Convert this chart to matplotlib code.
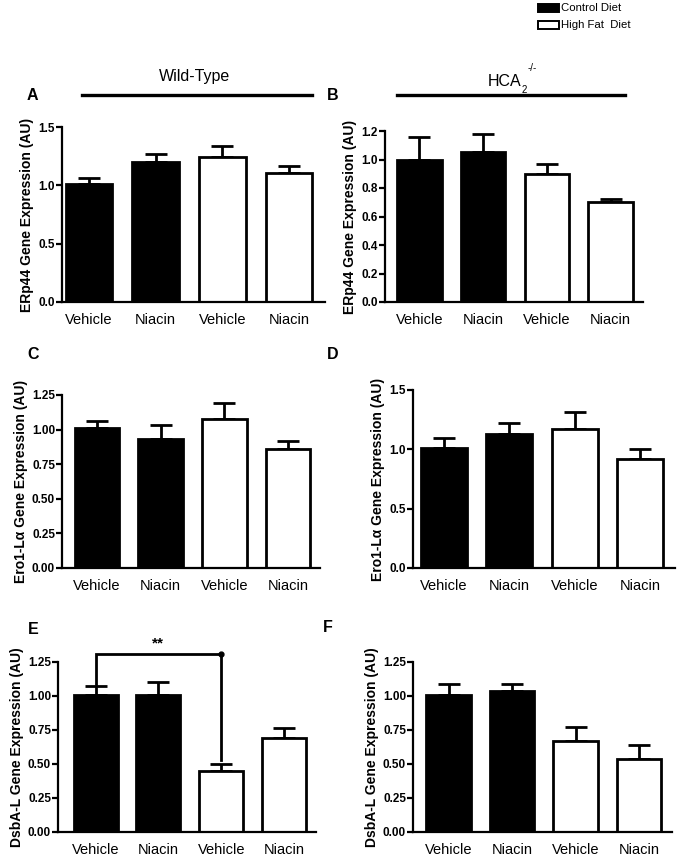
import matplotlib
matplotlib.use("Agg")
import matplotlib.pyplot as plt
from matplotlib.lines import Line2D
from matplotlib.patches import Rectangle

plt.rcParams['font.family'] = ['Liberation Sans', 'DejaVu Sans']

# ---------------- data ----------------
categories = ["Vehicle", "Niacin", "Vehicle", "Niacin"]
diet = ["Control Diet", "Control Diet", "High Fat Diet", "High Fat Diet"]

A_vals = [1.01, 1.20, 1.24, 1.11]
A_err = [0.05, 0.07, 0.10, 0.06]
B_vals = [1.00, 1.05, 0.90, 0.70]
B_err = [0.155, 0.13, 0.07, 0.02]
C_vals = [1.01, 0.93, 1.08, 0.86]
C_err = [0.05, 0.10, 0.115, 0.06]
D_vals = [1.01, 1.13, 1.17, 0.92]
D_err = [0.085, 0.09, 0.145, 0.085]
E_vals = [1.01, 1.005, 0.446, 0.69]
E_err = [0.06, 0.10, 0.052, 0.075]
F_vals = [1.01, 1.037, 0.67, 0.537]
F_err = [0.08, 0.054, 0.10, 0.10]

A_ticks = [0.0, 0.5, 1.0, 1.5]
B_ticks = [0.0, 0.2, 0.4, 0.6, 0.8, 1.0, 1.2]
C_ticks = [0.00, 0.25, 0.50, 0.75, 1.00, 1.25]
D_ticks = [0.0, 0.5, 1.0, 1.5]
E_ticks = [0.00, 0.25, 0.50, 0.75, 1.00, 1.25]
F_ticks = [0.00, 0.25, 0.50, 0.75, 1.00, 1.25]

ylab_erp = "ERp44 Gene Expression (AU)"
ylab_ero = "Ero1-Lα Gene Expression (AU)"
ylab_dsb = "DsbA-L Gene Expression (AU)"

# significance annotation in panel E
sig_left, sig_right = 0, 2
sig_y = 1.31
sig_left_bottom = 1.09
sig_right_bottom = 0.53
sig_text = "**"

# ---------------- layout ----------------
W, H = 680, 856
fig = plt.figure(figsize=(W / 100, H / 100), dpi=100)


def px_axes(left, top, right, bottom):
    return fig.add_axes([left / W, 1 - bottom / H, (right - left) / W, (bottom - top) / H])


def fx(x):
    return x / W


def fy(y):
    return 1 - y / H


bar_w = 0.70
fills = ["black" if d == "Control Diet" else "white" for d in diet]


def panel(box, xlim, vals, err, ticks, ylabel, fmt):
    ax = px_axes(*box)
    x = list(range(len(vals)))
    ax.bar(x, vals, width=bar_w, color=fills, edgecolor="black", linewidth=2.0, zorder=2)
    ax.errorbar(x, vals, yerr=[[0] * len(err), err], fmt="none", ecolor="black",
                elinewidth=2.0, capsize=8, capthick=2.0, zorder=1)
    ax.set_xlim(*xlim)
    ax.set_ylim(ticks[0], ticks[-1])
    ax.set_yticks(ticks)
    ax.set_yticklabels([fmt.format(t) for t in ticks], fontsize=8.5, fontweight="bold")
    ax.set_xticks(x)
    ax.set_xticklabels(categories, fontsize=10.5)
    ax.tick_params(axis="x", length=0, pad=8)
    ax.tick_params(axis="y", length=4, width=1.6, pad=1)
    for s in ("top", "right"):
        ax.spines[s].set_visible(False)
    for s in ("left", "bottom"):
        ax.spines[s].set_linewidth(1.6)
    ax.set_ylabel(ylabel, fontsize=10, fontweight="bold", labelpad=3)
    ax.patch.set_alpha(0)
    return ax


axA = panel((62, 127, 325, 302), (-0.405, 3.54), A_vals, A_err, A_ticks, ylab_erp, "{:.1f}")
axB = panel((385, 131, 643, 302), (-0.54, 3.51), B_vals, B_err, B_ticks, ylab_erp, "{:.1f}")
axC = panel((62, 395, 320, 568), (-0.55, 3.50), C_vals, C_err, C_ticks, ylab_ero, "{:.2f}")
axD = panel((413, 390, 675, 568), (-0.47, 3.53), D_vals, D_err, D_ticks, ylab_ero, "{:.1f}")
axE = panel((58, 662, 316, 832), (-0.60, 3.51), E_vals, E_err, E_ticks, ylab_dsb, "{:.2f}")
axF = panel((413, 662, 672, 832), (-0.56, 3.52), F_vals, F_err, F_ticks, ylab_dsb, "{:.2f}")

# significance bracket
axE.plot([sig_left, sig_left, sig_right, sig_right],
         [sig_left_bottom, sig_y, sig_y, sig_right_bottom],
         color="black", lw=2.0, clip_on=False, zorder=3, solid_joinstyle="miter")
axE.plot([sig_right], [sig_y], "o", color="black", ms=3.5, clip_on=False, zorder=3)
axE.text((sig_left + sig_right) / 2, sig_y + 0.025, sig_text, ha="center", va="bottom",
         fontsize=11, fontweight="bold", clip_on=False)

# panel letters
for letter, (x, y) in {"A": (32, 95), "B": (333, 95), "C": (33, 355),
                       "D": (333, 355), "E": (33, 630), "F": (328, 627)}.items():
    fig.text(fx(x), fy(y), letter, fontsize=11.5, fontweight="bold", ha="center", va="center")

# group headers
fig.text(fx(195), fy(77), "Wild-Type", fontsize=11.5, ha="center", va="center")
fig.text(fx(521), fy(82), "HCA", fontsize=11.5, ha="right", va="center")
fig.text(fx(522), fy(90), "2", fontsize=7, ha="left", va="center")
fig.text(fx(528), fy(68), "-/-", fontsize=7, ha="left", va="center")
fig.add_artist(Line2D([fx(82), fx(312)], [fy(95), fy(95)], color="black", lw=2.4))
fig.add_artist(Line2D([fx(397), fx(625)], [fy(95), fy(95)], color="black", lw=2.4))

# legend
for i, (lab, fc) in enumerate([("Control Diet", "black"), ("High Fat  Diet", "white")]):
    yc = 8 + i * 17
    fig.add_artist(Rectangle((fx(538), fy(yc + 4)), (559 - 538) / W, 8 / H,
                             facecolor=fc, edgecolor="black", lw=1.4))
    fig.text(fx(561), fy(yc), lab, fontsize=8.2, ha="left", va="center")

fig.savefig("out.png", dpi=100)
